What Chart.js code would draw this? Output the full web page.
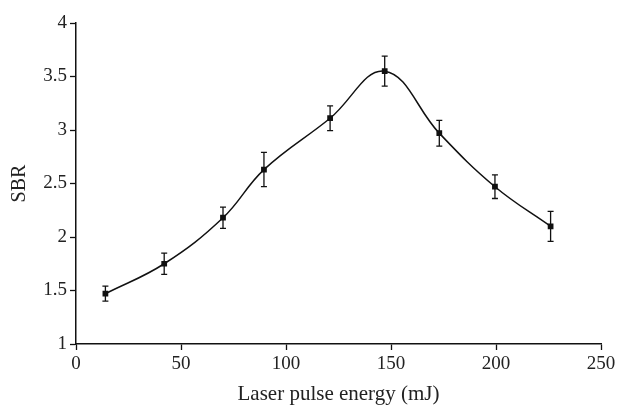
<!DOCTYPE html>
<html>
<head>
<meta charset="utf-8">
<script src="https://cdn.jsdelivr.net/npm/chart.js@4.4.0/dist/chart.umd.min.js"></script>
<style>
  html, body { margin: 0; padding: 0; background: #fff; }
  #wrap { width: 619px; height: 405px; }
</style>
</head>
<body>
<div id="wrap"><canvas id="myChart"></canvas></div>
<script>
var energy = [14, 42, 70, 89.5, 121, 147, 173, 199.5, 226];
var sbr = [1.47, 1.75, 2.18, 2.63, 3.11, 3.55, 2.97, 2.47, 2.10];
var sbrErr = [0.07, 0.10, 0.10, 0.16, 0.115, 0.14, 0.12, 0.11, 0.14];
var xTicks = [0, 50, 100, 150, 200, 250];
var yTicks = [1, 1.5, 2, 2.5, 3, 3.5, 4];

var serif = "'Liberation Serif', 'DejaVu Serif', serif";

// error bars drawn through the chart's own scales
var errorBars = {
  id: 'errorBars',
  afterDatasetsDraw: function(chart) {
    var ctx = chart.ctx;
    var xs = chart.scales.x, ys = chart.scales.y;
    ctx.save();
    ctx.strokeStyle = '#111';
    ctx.lineWidth = 1.3;
    for (var i = 0; i < energy.length; i++) {
      var px = xs.getPixelForValue(energy[i]);
      var top = ys.getPixelForValue(sbr[i] + sbrErr[i]);
      var bot = ys.getPixelForValue(sbr[i] - sbrErr[i]);
      ctx.beginPath();
      ctx.moveTo(px, top); ctx.lineTo(px, bot);
      ctx.moveTo(px - 3, top); ctx.lineTo(px + 3, top);
      ctx.moveTo(px - 3, bot); ctx.lineTo(px + 3, bot);
      ctx.stroke();
    }
    ctx.restore();
  }
};

var ctx = document.getElementById('myChart');
new Chart(ctx, {
  type: 'line',
  data: {
    datasets: [{
      data: energy.map(function(e, i) { return { x: e, y: sbr[i] }; }),
      borderColor: '#111',
      borderWidth: 1.5,
      tension: 0.4,
      pointStyle: 'rect',
      pointRadius: 3,
      pointBackgroundColor: '#111',
      pointBorderColor: '#111',
      fill: false
    }]
  },
  options: {
    responsive: true,
    maintainAspectRatio: false,
    animation: false,
    layout: { padding: { top: 23, right: 18, left: 0, bottom: 0 } },
    plugins: { legend: { display: false }, tooltip: { enabled: false } },
    scales: {
      x: {
        type: 'linear',
        min: 0, max: 250,
        afterBuildTicks: function(s) { s.ticks = xTicks.map(function(v) { return { value: v }; }); },
        afterFit: function(s) { s.height = 405 - 344; },
        grid: { drawOnChartArea: false, drawTicks: true, tickLength: 6, tickColor: '#111', tickWidth: 1.3 },
        border: { display: true, color: '#111', width: 1.5 },
        ticks: { color: '#222', font: { family: serif, size: 19 }, padding: 3, maxRotation: 0,
          callback: function(v) { return String(v); } },
        title: { display: true, text: 'Laser pulse energy (mJ)', color: '#222', font: { family: serif, size: 21 }, padding: { top: 0, bottom: -2 } }
      },
      y: {
        type: 'linear',
        min: 1, max: 4,
        afterBuildTicks: function(s) { s.ticks = yTicks.map(function(v) { return { value: v }; }); },
        afterFit: function(s) { s.width = 76; },
        grid: { drawOnChartArea: false, drawTicks: true, tickLength: 6, tickColor: '#111', tickWidth: 1.3 },
        border: { display: true, color: '#111', width: 1.5 },
        ticks: { color: '#222', font: { family: serif, size: 19 }, padding: 3,
          callback: function(v) { return String(v); } },
        title: { display: true, text: 'SBR', color: '#222', font: { family: serif, size: 20 }, padding: { top: 8, bottom: 4 } }
      }
    }
  },
  plugins: [errorBars]
});
</script>
</body>
</html>
